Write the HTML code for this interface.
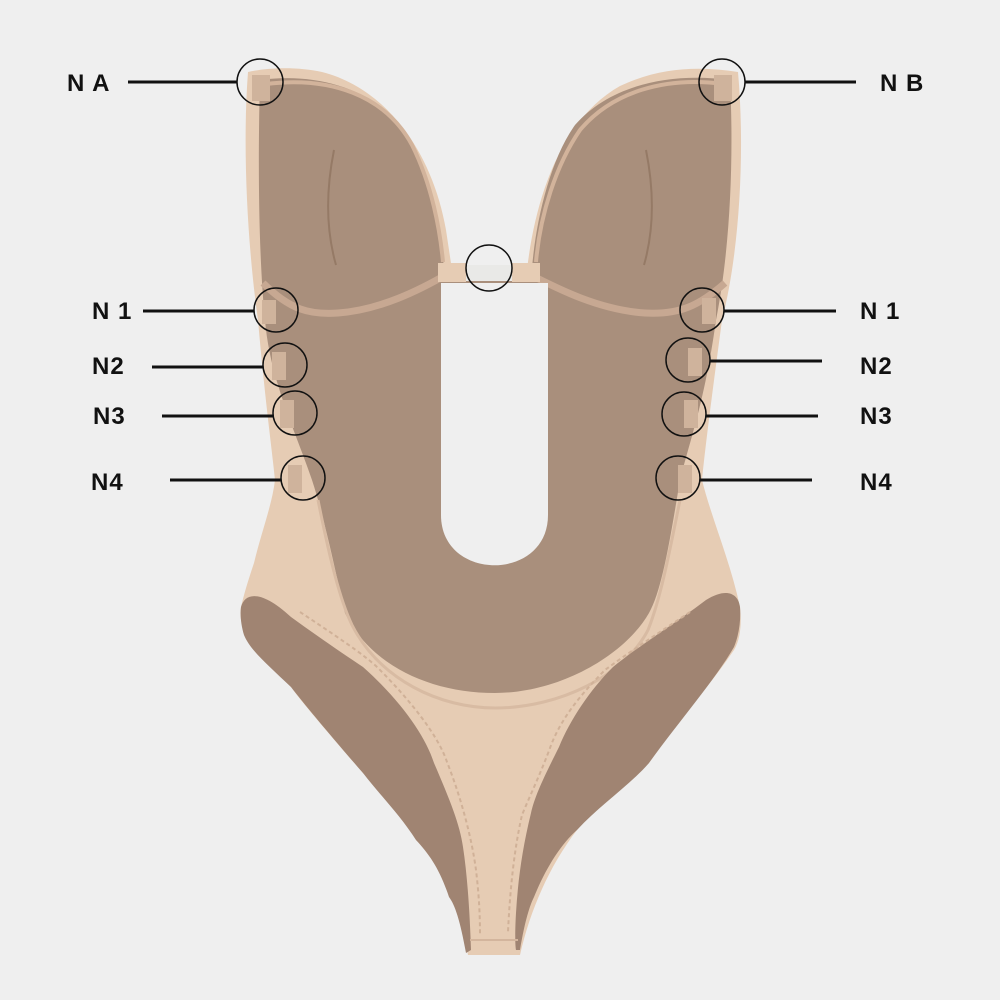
<!DOCTYPE html>
<html><head><meta charset="utf-8"><style>
html,body{margin:0;padding:0;background:#efefef;}
svg{display:block;}
text{font-family:"Liberation Sans",sans-serif;font-size:24px;fill:#111;font-weight:bold;letter-spacing:1px;}
</style></head><body>
<svg width="1000" height="1000" viewBox="0 0 1000 1000" xmlns="http://www.w3.org/2000/svg">
<rect width="1000" height="1000" fill="#efefef"/>
<path d="M248,72 C270,67 300,67 322,72 C385,88 432,150 446,230 L452,270 L527,270 C535,200 560,120 620,86 C660,67 700,66 738,72 C745,150 740,250 722,320 C714,380 706,440 702,480 C712,520 730,560 740,607 C742,625 740,640 734,650 C700,700 660,740 649,763 C620,790 590,815 577,830 C550,865 530,910 520,955 L468,955 C460,910 445,870 416,840 C400,810 380,790 363,773 C330,735 300,700 291,687 C270,665 250,650 244,630 C240,620 240,612 241,607 C245,590 250,575 254,563 C262,530 272,505 275,480 C272,450 265,400 258,320 C248,250 242,150 248,72 Z" fill="#e6ccb4"/>
<path d="M260,80 C320,72 380,90 410,140 C432,180 440,230 444,268 L532,268 C536,220 550,160 575,125 C610,85 670,72 730,80 C734,160 730,250 716,320 C705,400 690,440 680,480 C670,540 662,590 649,613 C625,655 560,693 495,693 C430,693 370,665 345,613 C335,570 325,520 312,480 C295,430 270,380 265,320 C258,250 258,150 260,80 Z" fill="#a98f7c"/>
<path d="M266,84 C330,76 385,95 412,145 C432,185 440,230 443,262" fill="none" stroke="#d2b39b" stroke-width="4"/>
<path d="M724,84 C665,76 612,92 580,130 C556,165 540,215 536,262" fill="none" stroke="#d2b39b" stroke-width="4"/>
<path d="M263,283 C290,310 310,315 338,313 C380,310 420,290 449,273" fill="none" stroke="#c7a892" stroke-width="7"/>
<path d="M527,273 C560,290 600,310 645,313 C680,315 700,305 725,283" fill="none" stroke="#c7a892" stroke-width="7"/>
<path d="M334,150 C326,190 326,230 336,265" fill="none" stroke="#957a66" stroke-width="2"/>
<path d="M646,150 C654,190 654,230 644,265" fill="none" stroke="#957a66" stroke-width="2"/>
<path d="M441,283 L441,515 C441,582 548,582 548,515 L548,283 Z" fill="#efefef"/>
<path d="M318,500 C330,560 340,600 352,625 C380,680 440,708 495,708 C560,708 625,675 648,630 C660,600 668,560 680,500" fill="none" stroke="#d8bba3" stroke-width="3"/>
<path d="M241,607 C245,592 262,590 291,617 C320,638 345,655 363,667 C400,700 425,735 434,763 C450,800 460,825 463,847 C468,880 470,920 471,950 L466,953 C460,920 455,905 449,897 C440,870 430,855 416,840 C400,815 380,795 363,773 C330,735 305,705 291,687 C268,665 250,650 244,635 C241,625 240,615 241,607 Z" fill="#a08472"/>
<path d="M740,607 C738,592 725,588 706,600 C680,620 640,645 613,667 C590,690 570,720 559,747 C545,775 535,795 531,813 C522,850 518,880 516,913 C515,930 515,945 516,950 L520,950 C525,920 530,905 534,897 C545,870 560,845 577,830 C600,805 630,785 649,763 C680,720 715,680 734,647 C739,635 741,620 740,607 Z" fill="#a08472"/>
<path d="M300,612 C330,632 365,655 378,668 C410,700 438,735 447,762 C462,800 472,840 476,870 C479,895 480,915 480,935" fill="none" stroke="#d0b198" stroke-width="2" stroke-dasharray="4 3"/>
<path d="M690,612 C660,632 625,655 605,670 C580,695 560,720 550,748 C540,775 528,800 522,815 C514,850 510,890 508,932" fill="none" stroke="#d0b198" stroke-width="2" stroke-dasharray="4 3"/>
<path d="M470,940 L518,940" stroke="#d3b59d" stroke-width="2"/>
<rect x="438" y="263" width="28" height="19" fill="#e6ccb4"/>
<rect x="512" y="263" width="28" height="19" fill="#e6ccb4"/>
<rect x="466" y="265" width="46" height="16" fill="#e9e9e7"/>
<g fill="#cfb39c">
<rect x="252" y="75" width="18" height="26"/><rect x="714" y="75" width="18" height="26"/>
<rect x="262" y="300" width="14" height="24"/><rect x="272" y="352" width="14" height="28"/><rect x="280" y="400" width="14" height="28"/><rect x="288" y="465" width="14" height="28"/>
<rect x="702" y="298" width="14" height="26"/><rect x="688" y="348" width="14" height="28"/><rect x="684" y="400" width="14" height="28"/><rect x="678" y="465" width="14" height="28"/>
</g>
<g fill="none" stroke="#111" stroke-width="1.5">
<circle cx="260" cy="82" r="23"/><circle cx="722" cy="82" r="23"/><circle cx="489" cy="268" r="23"/>
<circle cx="276" cy="310" r="22"/><circle cx="285" cy="365" r="22"/><circle cx="295" cy="413" r="22"/><circle cx="303" cy="478" r="22"/>
<circle cx="702" cy="310" r="22"/><circle cx="688" cy="360" r="22"/><circle cx="684" cy="414" r="22"/><circle cx="678" cy="478" r="22"/>
</g>
<g stroke="#111" stroke-width="3">
<line x1="128" y1="82" x2="237" y2="82"/><line x1="745" y1="82" x2="856" y2="82"/>
<line x1="143" y1="311" x2="254" y2="311"/><line x1="152" y1="367" x2="263" y2="367"/>
<line x1="162" y1="416" x2="273" y2="416"/><line x1="170" y1="480" x2="281" y2="480"/>
<line x1="724" y1="311" x2="836" y2="311"/><line x1="710" y1="361" x2="822" y2="361"/>
<line x1="706" y1="416" x2="818" y2="416"/><line x1="700" y1="480" x2="812" y2="480"/>
</g>
<text x="67" y="91">N A</text><text x="880" y="91">N B</text>
<text x="92" y="319">N 1</text><text x="92" y="374">N2</text><text x="93" y="424">N3</text><text x="91" y="490">N4</text>
<text x="860" y="319">N 1</text><text x="860" y="374">N2</text><text x="860" y="424">N3</text><text x="860" y="490">N4</text>
</svg>
</body></html>
